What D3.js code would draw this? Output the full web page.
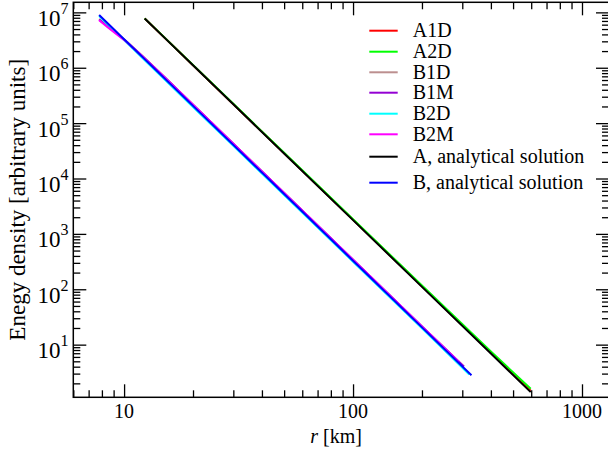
<!DOCTYPE html>
<html><head><meta charset="utf-8">
<script src="https://cdn.jsdelivr.net/npm/d3@7"></script>
<style>
html,body{margin:0;padding:0;background:#fff;}
svg{display:block;font-family:"Liberation Serif","Times New Roman",serif;}
</style></head>
<body><svg id="chart" width="608" height="449"></svg>
<script>
// ---------- data ----------
const seriesNames = ["A1D","A2D","B1D","B1M","B2D","B2M","A, analytical solution","B, analytical solution"];
const seriesColors = ["#ff0000","#00ff00","#bc8f8f","#9400d3","#00ffff","#ff00ff","#000000","#0000ff"];

const rA = [12.3, 15, 20, 30, 50, 100, 200, 400, 597];
const eA1D = [7.75e6, 3.51e6, 1.112e6, 2.2e5, 28600, 1795, 113, 7.15, 1.47];
const eA2D = [7.8e6, 3.54e6, 1.125e6, 2.23e5, 29100, 1840, 117, 7.5, 1.6];
const eAan = [7.73e6, 3.496e6, 1.106e6, 2.185e5, 28320, 1770, 110.6, 6.91, 1.39];

const rB  = [7.78, 8.5, 9.3, 10.2, 12, 15, 20, 30, 50, 100, 200, 305];
const eB1D = [7.6e6, 5.6e6, 4.2e6, 3.05e6, 1.64e6, 6.8e5, 2.15e5, 42400, 5470, 341, 21.3, 4.0];
const eB1M = [7.4e6, 5.5e6, 4.1e6, 3.0e6, 1.63e6, 6.8e5, 2.15e5, 42500, 5480, 342, 21.4, 4.05];
const rB2D = [7.78, 8.5, 9.3, 10.2, 12, 15, 20, 30, 50, 100, 200, 322];
const eB2D = [8.6e6, 6.0e6, 4.2e6, 2.92e6, 1.52e6, 6.2e5, 1.96e5, 38800, 5030, 315, 19.7, 2.9];
const rB2M = [7.78, 8.5, 9.3, 10.2, 12, 15, 20, 30, 50, 100, 200, 290];
const eB2M = [7.2e6, 5.35e6, 4.0e6, 2.98e6, 1.62e6, 6.75e5, 2.14e5, 42300, 5460, 340, 21.2, 4.85];
const rBan = [7.78, 10, 20, 50, 100, 200, 329];
const eBan = [8.94e6, 3.276e6, 2.0475e5, 5242, 327.6, 20.48, 2.8];

const xMajorTicks = [10, 100, 1000];
const xTickLabels = ["10", "100", "1000"];
const yMajorExps = [1, 2, 3, 4, 5, 6, 7];
const xDomain = [6, 1312];
const yDomain = [1.12, 1.52e7];
const xTitle = "[km]";
const yTitle = "Enegy density [arbitrary units]";

// ---------- layout ----------
const svg = d3.select("#chart");
const L = 73.3, R = 609, T = 2.3, B = 397.3;
const x = d3.scaleLog().domain(xDomain).range([L, R]);
const y = d3.scaleLog().domain(yDomain).range([B, T]);
const FONT = "\"Liberation Serif\",\"Times New Roman\",serif";

const series = [
  {r: rA, e: eA1D}, {r: rA, e: eA2D}, {r: rB, e: eB1D}, {r: rB, e: eB1M},
  {r: rB2D, e: eB2D}, {r: rB2M, e: eB2M}, {r: rA, e: eAan}, {r: rBan, e: eBan}
];

svg.append("defs").append("clipPath").attr("id","clip")
  .append("rect").attr("x",L).attr("y",T).attr("width",R-L).attr("height",B-T);

const line = d3.line().x(d => x(d[0])).y(d => y(d[1]));
const g = svg.append("g").attr("clip-path","url(#clip)");
series.forEach((s,i) => {
  g.append("path")
    .datum(s.r.map((rv,k) => [rv, s.e[k]]))
    .attr("d", line)
    .attr("fill","none")
    .attr("stroke", seriesColors[i])
    .attr("stroke-width", 2)
    .attr("stroke-linejoin","round");
});

function minors(domain) {
  const out = [];
  const lo = Math.floor(Math.log10(domain[0])), hi = Math.ceil(Math.log10(domain[1]));
  for (let n = lo; n <= hi; n++) for (let k = 2; k <= 9; k++) {
    const v = k * Math.pow(10, n);
    if (v >= domain[0] && v <= domain[1]) out.push(v);
  }
  return out;
}
const xMinor = minors(xDomain), yMinor = minors(yDomain);
const yMajor = yMajorExps.map(e => Math.pow(10, e));
const MAJ = 13, MIN = 7;

function addAxis(gen, tx, ty) {
  const a = svg.append("g").attr("transform", `translate(${tx},${ty})`).call(gen);
  a.select(".domain").remove();
  a.selectAll("text").remove();
  a.selectAll("line").attr("stroke","#000").attr("stroke-width",1.3);
  return a;
}
addAxis(d3.axisBottom(x).tickValues(xMajorTicks).tickSize(-MAJ).tickFormat(""), 0, B);
addAxis(d3.axisBottom(x).tickValues(xMinor).tickSize(-MIN).tickFormat(""), 0, B);
addAxis(d3.axisTop(x).tickValues(xMajorTicks).tickSize(-MAJ).tickFormat(""), 0, T);
addAxis(d3.axisTop(x).tickValues(xMinor).tickSize(-MIN).tickFormat(""), 0, T);
addAxis(d3.axisLeft(y).tickValues(yMajor).tickSize(-MAJ).tickFormat(""), L, 0);
addAxis(d3.axisLeft(y).tickValues(yMinor).tickSize(-MIN).tickFormat(""), L, 0);
addAxis(d3.axisRight(y).tickValues(yMajor).tickSize(-MAJ).tickFormat(""), R, 0);
addAxis(d3.axisRight(y).tickValues(yMinor).tickSize(-MIN).tickFormat(""), R, 0);

svg.append("rect").attr("x",L).attr("y",T).attr("width",R-L).attr("height",B-T)
  .attr("fill","none").attr("stroke","#000").attr("stroke-width",1.5);

xMajorTicks.forEach((v,i) => {
  svg.append("text").attr("x", x(v)).attr("y", B + 21)
    .attr("text-anchor","middle").attr("font-size",20).attr("font-family",FONT)
    .text(xTickLabels[i]);
});
yMajorExps.forEach(e => {
  const t = svg.append("text").attr("x", 68.5).attr("y", y(Math.pow(10,e)) + 13.5)
    .attr("text-anchor","end").attr("font-family",FONT).attr("font-size",23);
  t.append("tspan").text("10");
  t.append("tspan").attr("font-size",16).attr("dy",-12).text(String(e));
});

const xt = svg.append("text").attr("x", (L+R)/2 - 5).attr("y", 443)
  .attr("text-anchor","middle").attr("font-family",FONT).attr("font-size",20);
xt.append("tspan").attr("font-style","italic").text("r");
xt.append("tspan").text(" " + xTitle);

svg.append("text").attr("transform", `translate(25,${(T+B)/2}) rotate(-90)`)
  .attr("text-anchor","middle").attr("font-family",FONT).attr("font-size",23)
  .text(yTitle);

const legendY = [30.7, 51.7, 72.3, 92.7, 113.7, 134.3, 156.7, 182.7];
const lg = svg.append("g");
seriesNames.forEach((name,i) => {
  lg.append("line").attr("x1",369.3).attr("x2",397.7)
    .attr("y1",legendY[i]).attr("y2",legendY[i])
    .attr("stroke",seriesColors[i]).attr("stroke-width",2);
  lg.append("text").attr("x",412.7).attr("y",legendY[i]+6.5)
    .attr("font-family",FONT).attr("font-size",20).text(name);
});
</script></body></html>
